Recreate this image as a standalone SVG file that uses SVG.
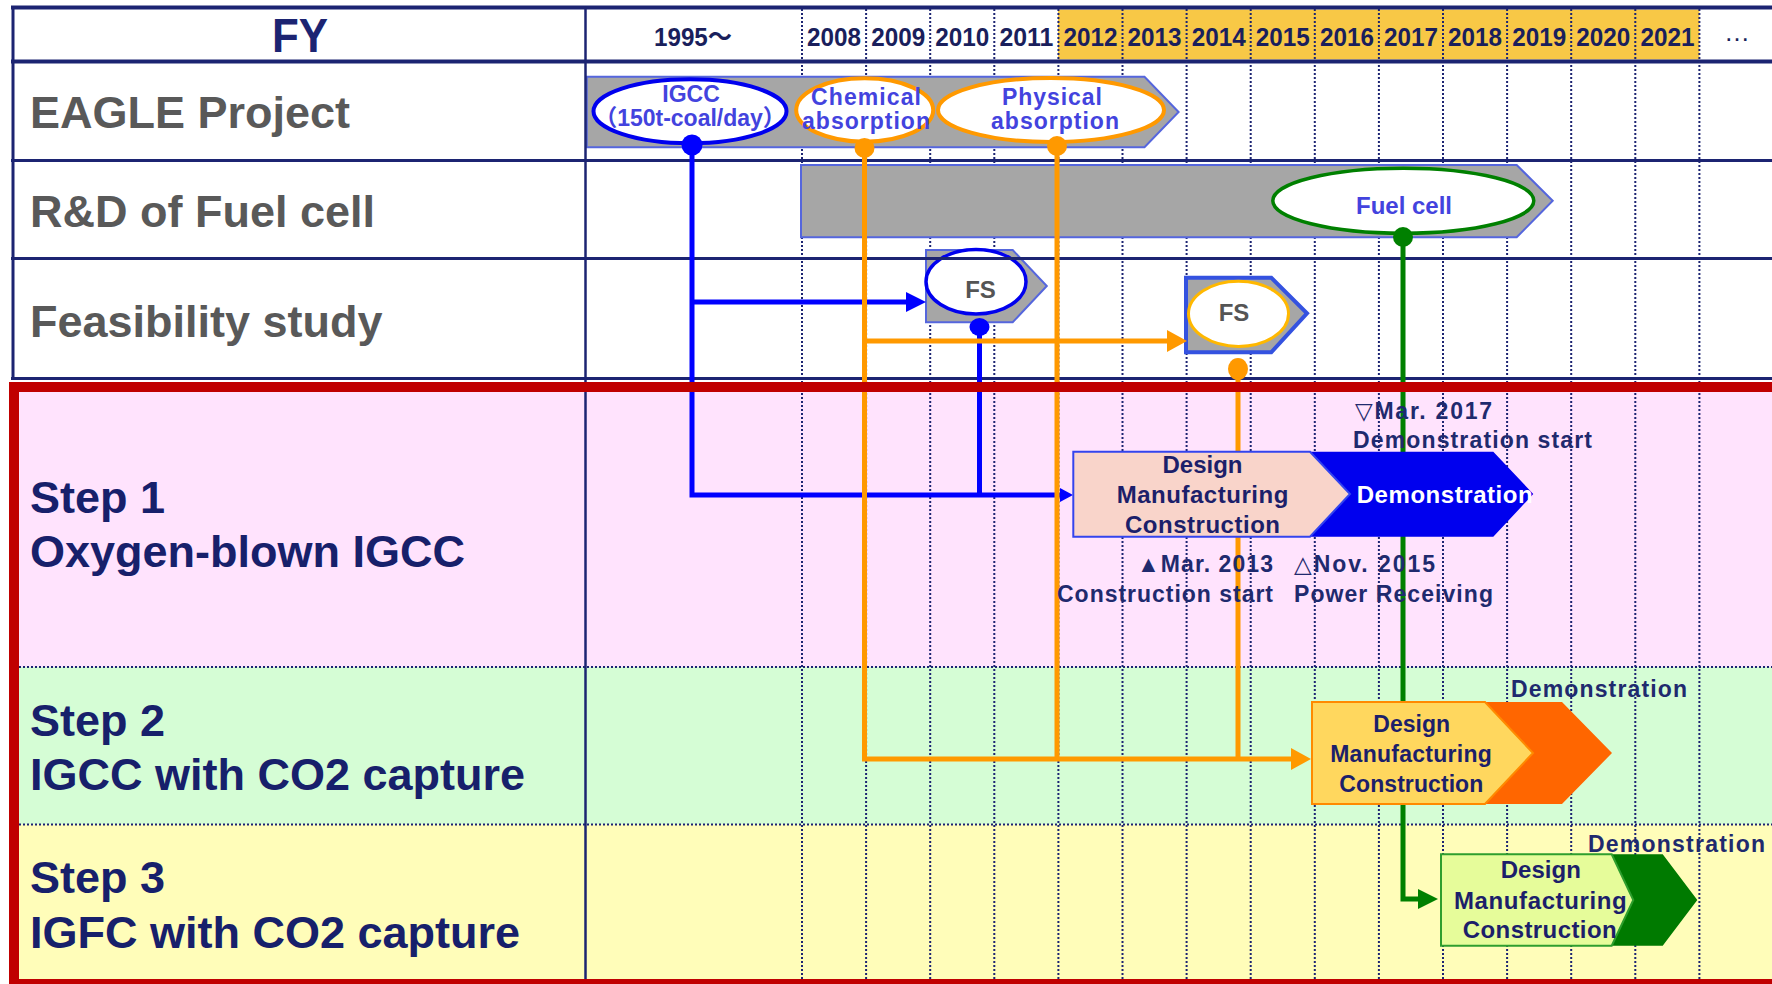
<svg xmlns="http://www.w3.org/2000/svg" width="1772" height="984" viewBox="0 0 1772 984">
<defs>
<style>
.lbl{font-family:'Liberation Sans',Arial,sans-serif;font-weight:bold;font-size:45px;fill:#595959}
.stp{font-family:'Liberation Sans',Arial,sans-serif;font-weight:bold;font-size:45px;fill:#17206b}
.yr{font-family:'Liberation Sans',Arial,'Noto Sans CJK JP',sans-serif;font-weight:bold;font-size:26px;fill:#1a1f5c;text-anchor:middle}
.ov{font-family:'Liberation Sans',Arial,'Noto Sans CJK JP',sans-serif;font-weight:bold;font-size:24px;fill:#4343de;text-anchor:middle}
.fs{font-family:'Liberation Sans',Arial,sans-serif;font-weight:bold;font-size:24px;fill:#555555;text-anchor:middle}
.bx{font-family:'Liberation Sans',Arial,sans-serif;font-weight:bold;font-size:24px;fill:#1c1f6a;text-anchor:middle}
.an{font-family:'Liberation Sans','DejaVu Sans',sans-serif;font-weight:bold;font-size:23px;fill:#1f2a6e}
.dotv{stroke:#1c2472;stroke-width:2;stroke-dasharray:2 2;fill:none}
.grid{stroke:#1c2472;fill:none}
.band{fill:#a6a6a6;stroke:#5566dd;stroke-width:2}
.cb{stroke:#0000ff;stroke-width:5;fill:none}
.co{stroke:#ff9900;stroke-width:5;fill:none}
.cg{stroke:#008000;stroke-width:5;fill:none}
</style>
<marker id="ab" markerUnits="userSpaceOnUse" markerWidth="20" markerHeight="20" refX="0" refY="10" orient="auto" viewBox="0 0 20 20"><path d="M0,0 L20,10 L0,20 z" fill="#0000ff"/></marker>
<marker id="abs" markerUnits="userSpaceOnUse" markerWidth="13" markerHeight="14" refX="0" refY="7" orient="auto" viewBox="0 0 13 14"><path d="M0,0 L13,7 L0,14 z" fill="#0000ff"/></marker>
<marker id="ao" markerUnits="userSpaceOnUse" markerWidth="20" markerHeight="22" refX="0" refY="11" orient="auto" viewBox="0 0 20 22"><path d="M0,0 L20,11 L0,22 z" fill="#ff9900"/></marker>
<marker id="ag" markerUnits="userSpaceOnUse" markerWidth="20" markerHeight="20" refX="0" refY="10" orient="auto" viewBox="0 0 20 20"><path d="M0,0 L20,10 L0,20 z" fill="#008000"/></marker>
</defs>

<rect x="0" y="0" width="1772" height="984" fill="#ffffff"/>
<!-- backgrounds -->
<rect x="1058" y="9.5" width="641.4" height="50" fill="#f8c846"/>
<rect x="14" y="387" width="1758" height="280" fill="#ffe3fd"/>
<rect x="14" y="667" width="1758" height="157.5" fill="#d5fdd5"/>
<rect x="14" y="824.5" width="1758" height="160" fill="#fffdb9"/>

<!-- dotted grid -->
<g id="grid-dotted">
<path class="dotv" d="M802,9V979M866.1,9V979M930.2,9V979M994.3,9V979M1058.4,9V979M1122.5,9V979M1186.6,9V979M1250.7,9V979M1314.8,9V979M1378.9,9V979M1443,9V979M1507.1,9V979M1571.2,9V979M1635.3,9V979M1699.4,9V979"/>
<path class="dotv" d="M19,667H1772M19,824.5H1772"/>
</g>

<!-- header texts -->
<g id="header">
<text class="yr" x="300" y="52" style="font-size:48px;fill:#1c2472" textLength="56" lengthAdjust="spacingAndGlyphs">FY</text>
<text class="yr" x="693" y="46" textLength="78" lengthAdjust="spacingAndGlyphs">1995～</text>
<text class="yr" x="834" y="46" textLength="54" lengthAdjust="spacingAndGlyphs">2008</text>
<text class="yr" x="898.2" y="46" textLength="54" lengthAdjust="spacingAndGlyphs">2009</text>
<text class="yr" x="962.2" y="46" textLength="54" lengthAdjust="spacingAndGlyphs">2010</text>
<text class="yr" x="1026.4" y="46" textLength="54" lengthAdjust="spacingAndGlyphs">2011</text>
<text class="yr" x="1090.5" y="46" textLength="54" lengthAdjust="spacingAndGlyphs">2012</text>
<text class="yr" x="1154.6" y="46" textLength="54" lengthAdjust="spacingAndGlyphs">2013</text>
<text class="yr" x="1218.7" y="46" textLength="54" lengthAdjust="spacingAndGlyphs">2014</text>
<text class="yr" x="1282.8" y="46" textLength="54" lengthAdjust="spacingAndGlyphs">2015</text>
<text class="yr" x="1346.9" y="46" textLength="54" lengthAdjust="spacingAndGlyphs">2016</text>
<text class="yr" x="1411" y="46" textLength="54" lengthAdjust="spacingAndGlyphs">2017</text>
<text class="yr" x="1475.1" y="46" textLength="54" lengthAdjust="spacingAndGlyphs">2018</text>
<text class="yr" x="1539.2" y="46" textLength="54" lengthAdjust="spacingAndGlyphs">2019</text>
<text class="yr" x="1603.3" y="46" textLength="54" lengthAdjust="spacingAndGlyphs">2020</text>
<text class="yr" x="1667.4" y="46" textLength="54" lengthAdjust="spacingAndGlyphs">2021</text>
<text class="yr" x="1737" y="41" style="font-weight:normal">…</text>
</g>

<!-- row labels -->
<g id="row-labels">
<text class="lbl" x="30" y="128">EAGLE Project</text>
<text class="lbl" x="30" y="227">R&amp;D of Fuel cell</text>
<text class="lbl" x="30" y="337">Feasibility study</text>
<text class="stp" x="30" y="513">Step 1</text>
<text class="stp" x="30" y="566.5">Oxygen-blown IGCC</text>
<text class="stp" x="30" y="735.5">Step 2</text>
<text class="stp" x="30" y="790">IGCC with CO2 capture</text>
<text class="stp" x="30" y="893">Step 3</text>
<text class="stp" x="30" y="948">IGFC with CO2 capture</text>
</g>

<!-- EAGLE band -->
<g id="eagle-band">
<polygon class="band" points="586.7,76.7 1144.5,76.7 1178.6,112 1144.5,147.3 586.7,147.3"/>
</g>
<g id="node-igcc">
<ellipse cx="690" cy="111.3" rx="96.5" ry="32" fill="#ffffff" stroke="#0000ee" stroke-width="4"/>
<text class="ov" x="691" y="102" style="font-size:23px">IGCC</text>
<text class="ov" x="690" y="126" style="font-size:23px">（150t-coal/day）</text>
</g>
<g id="node-chemical">
<ellipse cx="864.7" cy="110" rx="68.5" ry="31.7" fill="#ffffff" stroke="#ff9900" stroke-width="4"/>
<text class="ov" x="866" y="105" style="font-size:23px" textLength="110" lengthAdjust="spacing">Chemical</text>
<text class="ov" x="866" y="129" style="font-size:23px" textLength="128" lengthAdjust="spacing">absorption</text>
</g>
<g id="node-physical">
<ellipse cx="1051" cy="110" rx="113" ry="32" fill="#ffffff" stroke="#ff9900" stroke-width="4"/>
<text class="ov" x="1052" y="105" style="font-size:23px" textLength="100" lengthAdjust="spacing">Physical</text>
<text class="ov" x="1055" y="129" style="font-size:23px" textLength="128" lengthAdjust="spacing">absorption</text>
</g>

<!-- Fuel cell -->
<g id="fuelcell-band">
<polygon class="band" points="801,165 1516.7,165 1552.7,200.7 1516.7,237.3 801,237.3"/>
</g>
<g id="node-fuelcell">
<ellipse cx="1403.3" cy="200.8" rx="130.5" ry="32.5" fill="#ffffff" stroke="#008000" stroke-width="3.5"/>
<text class="ov" x="1404" y="214">Fuel cell</text>
</g>

<!-- FS -->
<g id="node-fs1">
<polygon class="band" points="926,250 1012.7,250 1046.8,286 1012.7,322.3 926,322.3"/>
<ellipse cx="976" cy="281.7" rx="50" ry="32.3" fill="#ffffff" stroke="#0000ee" stroke-width="3.5"/>
<text class="fs" x="980.5" y="298.3">FS</text>
</g>
<g id="node-fs2">
<polygon points="1186,277.7 1271.3,277.7 1307,313.3 1271.3,352.3 1186,352.3" fill="#a6a6a6" stroke="#3452e0" stroke-width="4"/>
<ellipse cx="1238.5" cy="313.8" rx="50" ry="32.6" fill="#ffffff" stroke="#ffb800" stroke-width="3"/>
<text class="fs" x="1234" y="321">FS</text>
</g>

<!-- solid grid lines -->
<g id="grid-solid">
<path class="grid" stroke-width="4" d="M11,7.5H1772M11,61.5H1772"/>
<path class="grid" stroke-width="3" d="M11,160.5H1772M11,258.5H1772M11,378.5H1772M13,7V380"/>
<path class="grid" stroke-width="2.5" d="M585.5,7V979"/>
</g>

<!-- connectors -->
<g id="connectors">
<path class="cb" d="M692,145V495H1060" marker-end="url(#abs)"/>
<path class="cb" d="M692,302H906" marker-end="url(#ab)"/>
<path class="cb" d="M979.5,327V495"/>
<path class="co" d="M864.5,148V759H1291" marker-end="url(#ao)"/>
<path class="co" d="M864.5,341H1167" marker-end="url(#ao)"/>
<path class="co" d="M1057,146V759"/>
<path class="co" d="M1238,369V759"/>
<path class="cg" d="M1403,237V899H1418" marker-end="url(#ag)"/>
<circle cx="692" cy="145" r="10.5" fill="#0000ff"/>
<circle cx="864.5" cy="148" r="10" fill="#ff9900"/>
<circle cx="1057" cy="146" r="10" fill="#ff9900"/>
<circle cx="1403" cy="237" r="10" fill="#008000"/>
<ellipse cx="979.5" cy="327" rx="10" ry="9" fill="#0000ff"/>
<ellipse cx="1238" cy="369" rx="10" ry="11" fill="#ff9900"/>
</g>

<!-- Step 1 box -->
<g id="node-step1">
<polygon points="1310,451.7 1493.3,451.7 1533.3,494 1493.3,536.7 1310,536.7 1350,494" fill="#0000ee"/>
<polygon points="1073.3,451.7 1310,451.7 1350,494 1310,536.7 1073.3,536.7" fill="#f9d4ca" stroke="#3344ee" stroke-width="2"/>
<text class="bx" x="1202.5" y="473.3">Design</text>
<text class="bx" x="1202.5" y="503.3" textLength="171.7" lengthAdjust="spacing">Manufacturing</text>
<text class="bx" x="1202.5" y="533.3" textLength="155" lengthAdjust="spacing">Construction</text>
<text class="bx" x="1444.7" y="503" style="fill:#ffffff" textLength="176" lengthAdjust="spacing">Demonstration</text>
</g>
<g id="step1-notes">
<text class="an" x="1355" y="419" textLength="137" lengthAdjust="spacing">▽Mar. 2017</text>
<text class="an" x="1353" y="448" textLength="239" lengthAdjust="spacing">Demonstration start</text>
<text class="an" x="1137" y="572" textLength="136" lengthAdjust="spacing">▲Mar. 2013</text>
<text class="an" x="1057" y="602" textLength="216" lengthAdjust="spacing">Construction start</text>
<text class="an" x="1294" y="572" textLength="141" lengthAdjust="spacing">△Nov. 2015</text>
<text class="an" x="1294" y="602" textLength="199" lengthAdjust="spacing">Power Receiving</text>
</g>

<!-- Step 2 box -->
<g id="node-step2">
<polygon points="1485,702 1562,702 1612,753 1562,804 1485,804 1533,753" fill="#ff6600"/>
<polygon points="1312,702 1485,702 1533,753 1485,804 1312,804" fill="#ffd75e" stroke="#ff8a00" stroke-width="2"/>
<text class="bx" x="1411.7" y="731.7" style="font-size:23px">Design</text>
<text class="bx" x="1411" y="761.7" style="font-size:23px" textLength="161.7" lengthAdjust="spacing">Manufacturing</text>
<text class="bx" x="1411.3" y="791.7" style="font-size:23px" textLength="144" lengthAdjust="spacing">Construction</text>
<text class="an" x="1511" y="697" textLength="176" lengthAdjust="spacing">Demonstration</text>
</g>

<!-- Step 3 box -->
<g id="node-step3">
<polygon points="1611.7,854.3 1662.7,854.3 1697.3,900 1662.7,945.7 1611.7,945.7 1633.3,900" fill="#007a00"/>
<polygon points="1441,854.3 1611.7,854.3 1633.3,900 1611.7,945.7 1441,945.7" fill="#e6fc9a" stroke="#2e9e2e" stroke-width="2"/>
<text class="bx" x="1540.8" y="878.3">Design</text>
<text class="bx" x="1540.3" y="909.3" textLength="172.7" lengthAdjust="spacing">Manufacturing</text>
<text class="bx" x="1539.7" y="938.3" textLength="154" lengthAdjust="spacing">Construction</text>
<text class="an" x="1588" y="852" textLength="177" lengthAdjust="spacing">Demonstration</text>
</g>

<!-- red frame -->
<rect x="14" y="387" width="1800" height="597" fill="none" stroke="#c00000" stroke-width="10"/>
</svg>
